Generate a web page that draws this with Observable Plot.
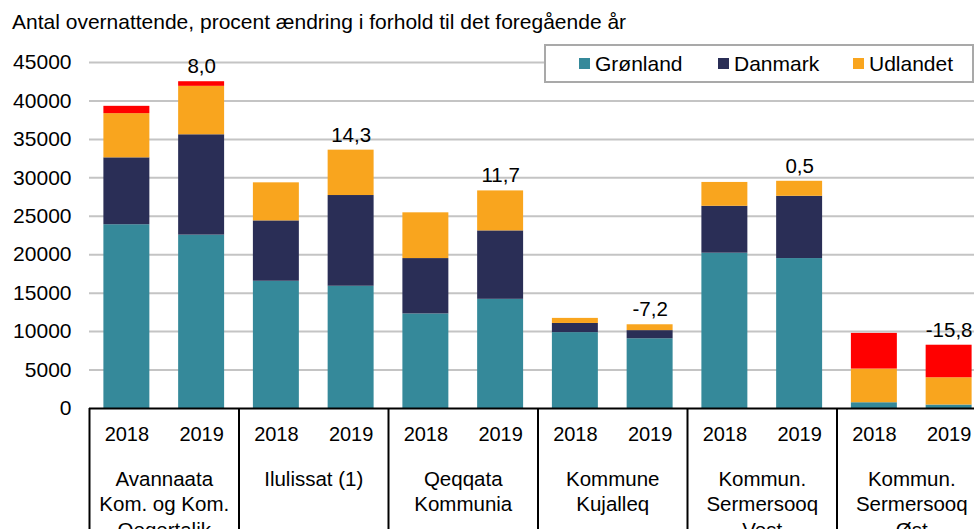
<!DOCTYPE html>
<html><head><meta charset="utf-8">
<script src="https://cdn.jsdelivr.net/npm/d3@7"></script>
<script src="https://cdn.jsdelivr.net/npm/@observablehq/plot@0.6"></script>
<style>
body{margin:0;background:#fff;font-family:"Liberation Sans",Arial,sans-serif;}
#wrap{position:relative;width:974px;height:529px;overflow:hidden;background:#fff;}
#title{height:40px;position:relative;}
#title span{position:absolute;left:12px;top:11px;font-size:21px;line-height:21px;color:#000;white-space:nowrap;}
#chart svg{display:block;}
#legend{position:absolute;left:544px;top:44px;width:430px;height:39px;box-sizing:border-box;border:2px solid #a9a9a9;background:#fff;}
.item{position:absolute;top:0;height:35px;display:flex;align-items:center;font-size:21px;color:#000;white-space:nowrap;}
.sw{width:11px;height:11px;margin-right:5px;}
</style></head>
<body>
<div id="wrap">
  <div id="title"><span>Antal overnattende, procent ændring i forhold til det foregående år</span></div>
  <div id="chart"></div>
  <div id="legend"></div>
</div>
<script>
// ---- data ----
const groupLabels = [
  "Avannaata\nKom. og Kom.\nQeqertalik",
  "Ilulissat (1)",
  "Qeqqata\nKommunia",
  "Kommune\nKujalleq",
  "Kommun.\nSermersooq\nVest",
  "Kommun.\nSermersooq\nØst"
];
const years = ["2018", "2019"];
const seriesNames = ["Grønland", "Danmark", "Udlandet", "Uoplyst"];
const seriesColors = ["#35899a", "#2a2e56", "#f9a51e", "#ff0000"];
// one value per bar: group1 2018, group1 2019, group2 2018, ...
const groenland = [23900, 22550, 16550, 15900, 12300, 14200, 9870, 9070, 20200, 19500, 750, 450];
const danmark   = [8700, 13050, 7850, 11800, 7200, 8900, 1190, 1060, 6100, 8100, 0, 0];
const udlandet  = [5750, 6300, 4950, 5900, 5950, 5200, 660, 760, 3100, 1950, 4380, 3550];
const uoplyst   = [950, 600, 0, 0, 0, 0, 0, 0, 0, 0, 4640, 4230];
const changeLabels = ["8,0", "14,3", "11,7", "-7,2", "0,5", "-15,8"];
const yTicks = [0, 5000, 10000, 15000, 20000, 25000, 30000, 35000, 40000, 45000];

// ---- derived tables ----
const seriesValues = [groenland, danmark, udlandet, uoplyst];
const nBars = groenland.length;
const pad = 0.1925;
const rows = [];
const totals = [];
for (let i = 0; i < nBars; i++) {
  let acc = 0;
  seriesValues.forEach((vals, s) => {
    const v = vals[i];
    if (v > 0) rows.push({x1: i + pad, x2: i + 1 - pad, y1: acc, y2: acc + v, series: seriesNames[s]});
    acc += v;
  });
  totals.push(acc);
}
const yearRows = d3.range(nBars).map(i => ({xc: i + 0.5, year: years[i % 2]}));
const groupRows = groupLabels.map((label, g) => ({xc: 2 * g + 1, label}));
const changeRows = changeLabels.map((label, g) => ({xc: 2 * g + 1.5, total: totals[2 * g + 1], label}));
const seps = d3.range(0, nBars + 1, 2);

// ---- layout ----
const W = 974, H = 489, mL = 89, mT = 22, mB = 121;
const groupW = 149.5;
const xRight = mL + groupW * groupLabels.length;
const yMax = 45000;
const yBottom = -yMax * mB / (H - mT - mB);
const font = '"Liberation Sans", Arial, sans-serif';

const plot = Plot.plot({
  width: W, height: H,
  marginLeft: mL, marginRight: 0, marginTop: mT, marginBottom: mB,
  style: {fontFamily: font, fontSize: "21px", color: "#000", background: "transparent"},
  x: {type: "linear", domain: [0, nBars], range: [mL, xRight], axis: null},
  y: {domain: [0, yMax], ticks: yTicks, tickFormat: d => String(d), tickSize: 0, tickPadding: 18, label: null},
  color: {domain: seriesNames, range: seriesColors},
  marks: [
    Plot.ruleY(yTicks.filter(d => d > 0), {stroke: "#c4c4c4", strokeWidth: 2}),
    Plot.rect(rows, {x1: "x1", x2: "x2", y1: "y1", y2: "y2", fill: "series"}),
    Plot.ruleY([0], {stroke: "#000", strokeWidth: 2}),
    Plot.ruleX(seps, {x: d => d, y1: 0, y2: yBottom, stroke: "#000", strokeWidth: 2}),
    Plot.text(yearRows, {x: "xc", y: 0, text: "year", dy: 26, fontSize: 20, fill: "#000"}),
    Plot.text(groupRows, {x: "xc", y: 0, text: "label", lineAnchor: "top", dy: 59, lineHeight: 1.25, fontSize: 20.5, fill: "#000"}),
    Plot.text(changeRows, {x: "xc", y: "total", text: "label", dy: -15, fontSize: 20.5, fill: "#000"})
  ]
});
document.getElementById("chart").appendChild(plot);

// ---- legend ----
const legend = document.getElementById("legend");
const legendLefts = [33, 172, 307];
seriesNames.slice(0, 3).forEach((name, s) => {
  const it = document.createElement("div");
  it.className = "item";
  it.style.left = legendLefts[s] + "px";
  const sw = document.createElement("span");
  sw.className = "sw";
  sw.style.background = seriesColors[s];
  it.appendChild(sw);
  it.appendChild(document.createTextNode(name));
  legend.appendChild(it);
});
</script>
</body></html>
